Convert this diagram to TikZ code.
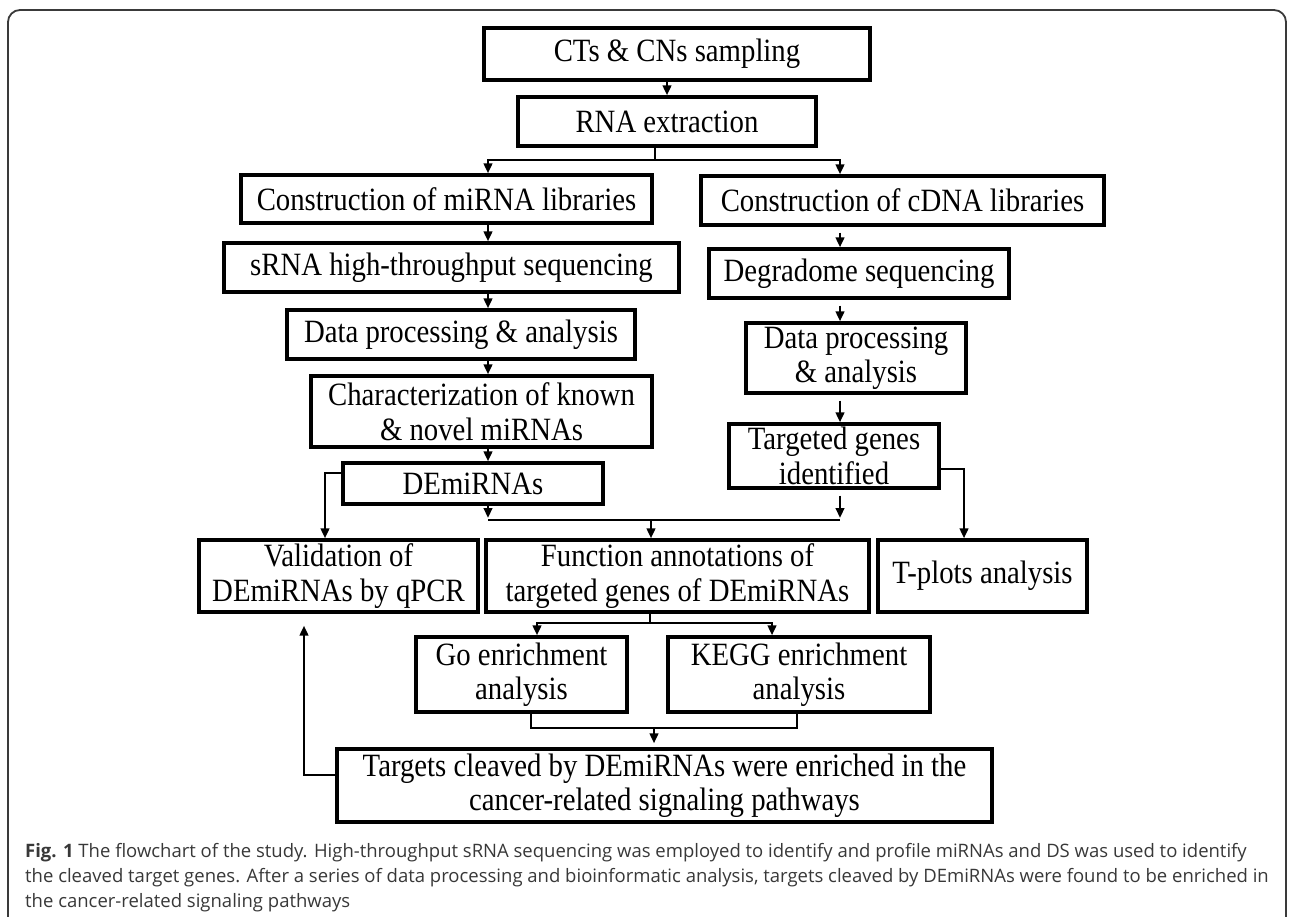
\documentclass[tikz,border=0pt]{standalone}
\usepackage{fontspec}
\setmainfont{Liberation Serif}
\newfontfamily\boxfont{Liberation Serif}[FakeStretch=0.885]
\newfontfamily\capfont{Open Sans}
\usetikzlibrary{positioning, arrows.meta, calc}
\definecolor{frameGray}{HTML}{3A3A3A}
\definecolor{capGray}{HTML}{383838}

\begin{document}
\begin{tikzpicture}[x=1pt, y=-1pt,
    box/.style={draw, line width=3.3pt, align=center, inner sep=0pt,
      font=\boxfont\fontsize{32.5}{34.5}\selectfont},
    conn/.style={line width=2.7pt},
    arr/.style={-{Triangle[length=10pt, width=8.5pt]}, line width=2.7pt},
    captext/.style={anchor=base west, inner sep=0pt, text=capGray,
      font=\capfont\fontsize{18.5}{25}\selectfont}]
  \useasboundingbox (0,0) rectangle (1290,917);
  \draw[frameGray, line width=1.8pt, rounded corners=12pt]
    (8,917) -- (8,10) -- (1286,10) -- (1286,917);
  % column and bend points
  \coordinate (lc) at (488,0);
  \coordinate (rc) at (840,0);
  \coordinate (split) at (655,160);
  \coordinate (merge) at (651,520);
  \coordinate (vbend) at (325,473);
  \coordinate (tbend) at (964,469);
  \coordinate (fsplit) at (650,623);
  \coordinate (goin) at (537,623);
  \coordinate (kgin) at (772,623);
  \coordinate (goout) at (531,728);
  \coordinate (kgout) at (797,728);
  \coordinate (gjoin) at (654,728);
  \coordinate (ubend) at (304,775);

  \node[box, minimum width=386pt, minimum height=52pt] (sample) at (677,54) {CTs \& CNs sampling};
  \node[box, minimum width=298pt, minimum height=49pt] (rna) at (667,121.5) {RNA extraction};
  \node[box, minimum width=411pt, minimum height=48pt] (mirlib) at (446.5,199) {Construction of miRNA libraries};
  \node[box, minimum width=403pt, minimum height=49pt] (cdnalib) at (902.5,200.5) {Construction of cDNA libraries};
  \node[box, minimum width=455pt, minimum height=49pt] (srna) at (451.5,267.5) {sRNA high-throughput sequencing};
  \node[box, minimum width=300pt, minimum height=49pt] (degr) at (859,273.5) {Degradome sequencing};
  \node[box, minimum width=348pt, minimum height=49pt] (procl) at (461,334.5) {Data processing \& analysis};
  \node[box, minimum width=220pt, minimum height=70pt] (procr) at (856,358) {Data processing\\\& analysis};
  \node[box, minimum width=341pt, minimum height=71pt] (charact) at (481.5,411.5) {Characterization of known\\\& novel miRNAs};
  \node[box, minimum width=260pt, minimum height=41pt] (demir) at (473,483.5) {DEmiRNAs};
  \node[box, minimum width=210pt, minimum height=64pt] (targ) at (834,456) {Targeted genes\\identified};
  \node[box, minimum width=279pt, minimum height=72pt] (valid) at (338.5,576) {Validation of\\DEmiRNAs by qPCR};
  \node[box, minimum width=383pt, minimum height=72pt] (func) at (677.5,576) {Function annotations of\\targeted genes of DEmiRNAs};
  \node[box, minimum width=209pt, minimum height=72pt] (tplot) at (982.5,576) {T-plots analysis};
  \node[box, minimum width=211pt, minimum height=75pt] (goen) at (521.5,674.5) {Go enrichment\\analysis};
  \node[box, minimum width=262pt, minimum height=75pt] (kegg) at (799,674.5) {KEGG enrichment\\analysis};
  \node[box, minimum width=655pt, minimum height=73pt] (cleave) at (664.5,785.5) {Targets cleaved by DEmiRNAs were enriched in the\\cancer-related signaling pathways};

  \draw[arr] (sample.south -| rna) -- (rna);
  \draw[conn] (rna.south -| split) -- (split);
  \draw[arr] (split) -| (mirlib.north -| lc);
  \draw[arr] (split) -| (cdnalib.north -| rc);
  \foreach \a/\b in {mirlib/srna, srna/procl, procl/charact, charact/demir}
    \draw[arr] (\a.south -| lc) -- (\b.north -| lc);
  \foreach \a/\b in {cdnalib/degr, degr/procr, procr/targ}
    \draw[arr, shorten <=6pt] (\a.south -| rc) -- (\b.north -| rc);
  % into the function box
  \draw[arr, shorten >=2pt] (demir.south -| lc) -- (lc |- merge);
  \draw[arr, shorten <=6pt, shorten >=2pt] (targ.south -| rc) -- (rc |- merge);
  \draw[conn] (lc |- merge) -- (rc |- merge);
  \draw[arr] (merge) -- (func.north -| merge);
  \draw[arr] (demir.west |- vbend) -| (valid.north -| vbend);
  \draw[arr] (targ.east |- tbend) -| (tplot.north -| tbend);
  % enrichment
  \draw[conn] (func.south -| fsplit) -- (fsplit);
  \draw[arr] (fsplit) -| (goen.north -| goin);
  \draw[arr] (fsplit) -| (kegg.north -| kgin);
  \draw[conn] (goen.south -| goout) -- (goout) -- (kgout) -- (kegg.south -| kgout);
  \draw[arr, shorten >=4pt] (gjoin) -- (cleave.north -| gjoin);
  \draw[arr, shorten >=12pt] (cleave.west |- ubend) -| (valid.south -| ubend);

  % caption
  \node[captext] (cap1) at (25,857) {\textbf{Fig. 1} The flowchart of the study. High-throughput sRNA sequencing was employed to identify and profile miRNAs and DS was used to identify};
  \node[captext] (cap2) at (25,882) {the cleaved target genes. After a series of data processing and bioinformatic analysis, targets cleaved by DEmiRNAs were found to be enriched in};
  \node[captext] (cap3) at (25,907) {the cancer-related signaling pathways};
\end{tikzpicture}
\end{document}
